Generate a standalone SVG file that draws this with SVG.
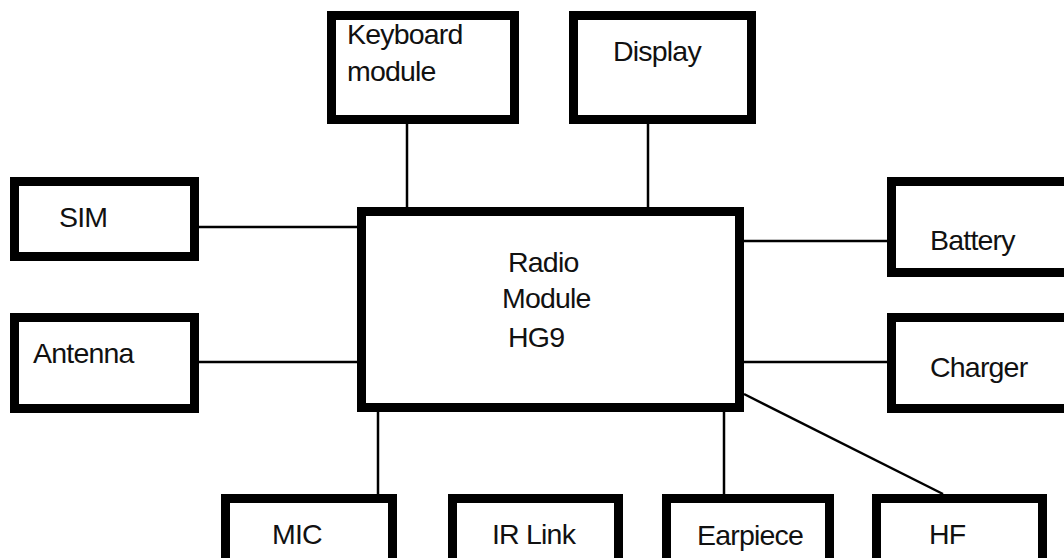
<svg xmlns="http://www.w3.org/2000/svg" width="1064" height="558" viewBox="0 0 1064 558">
<style>
.box{fill:#fff;stroke:#000;stroke-width:9}
.lbl{font-family:"Liberation Sans",Arial,sans-serif;font-size:28.5px;letter-spacing:-0.8px;fill:#111}
.con{stroke:#000;stroke-width:2.5;fill:none}
</style>
<rect width="1064" height="558" fill="#fff"/>
<g id="connectors">
<line class="con" x1="407" y1="124" x2="407" y2="207"/>
<line class="con" x1="648" y1="124" x2="648" y2="207"/>
<line class="con" x1="199" y1="227" x2="357" y2="227"/>
<line class="con" x1="199" y1="362" x2="357" y2="362"/>
<line class="con" x1="744" y1="241" x2="887" y2="241"/>
<line class="con" x1="744" y1="362" x2="887" y2="362"/>
<line class="con" x1="378" y1="412" x2="378" y2="494"/>
<line class="con" x1="724" y1="412" x2="724" y2="494"/>
<line class="con" x1="744" y1="394" x2="943" y2="494"/>
</g>
<g id="keyboard"><rect class="box" x="331.5" y="15.5" width="183" height="104"/><text class="lbl" x="347" y="44">Keyboard</text><text class="lbl" x="347" y="81">module</text></g>
<g id="display"><rect class="box" x="573.5" y="15.5" width="178" height="104"/><text class="lbl" x="613" y="61">Display</text></g>
<g id="sim"><rect class="box" x="14.5" y="181.5" width="180" height="75"/><text class="lbl" x="59" y="227">SIM</text></g>
<g id="antenna"><rect class="box" x="14.5" y="317.5" width="180" height="91"/><text class="lbl" x="33" y="363">Antenna</text></g>
<g id="radio"><rect class="box" x="361.5" y="211.5" width="378" height="196"/><text class="lbl" x="508" y="272">Radio</text><text class="lbl" x="502" y="308">Module</text><text class="lbl" x="508" y="347">HG9</text></g>
<g id="battery"><rect class="box" x="891.5" y="181.5" width="190" height="91"/><text class="lbl" x="930" y="250">Battery</text></g>
<g id="charger"><rect class="box" x="891.5" y="317.5" width="190" height="91"/><text class="lbl" x="930" y="377">Charger</text></g>
<g id="mic"><rect class="box" x="225.5" y="498.5" width="167" height="80"/><text class="lbl" x="272" y="544">MIC</text></g>
<g id="irlink"><rect class="box" x="452.5" y="498.5" width="166" height="80"/><text class="lbl" x="492" y="544">IR Link</text></g>
<g id="earpiece"><rect class="box" x="666.5" y="498.5" width="163" height="80"/><text class="lbl" x="697" y="545">Earpiece</text></g>
<g id="hf"><rect class="box" x="876.5" y="498.5" width="166" height="80"/><text class="lbl" x="929" y="544">HF</text></g>
</svg>
